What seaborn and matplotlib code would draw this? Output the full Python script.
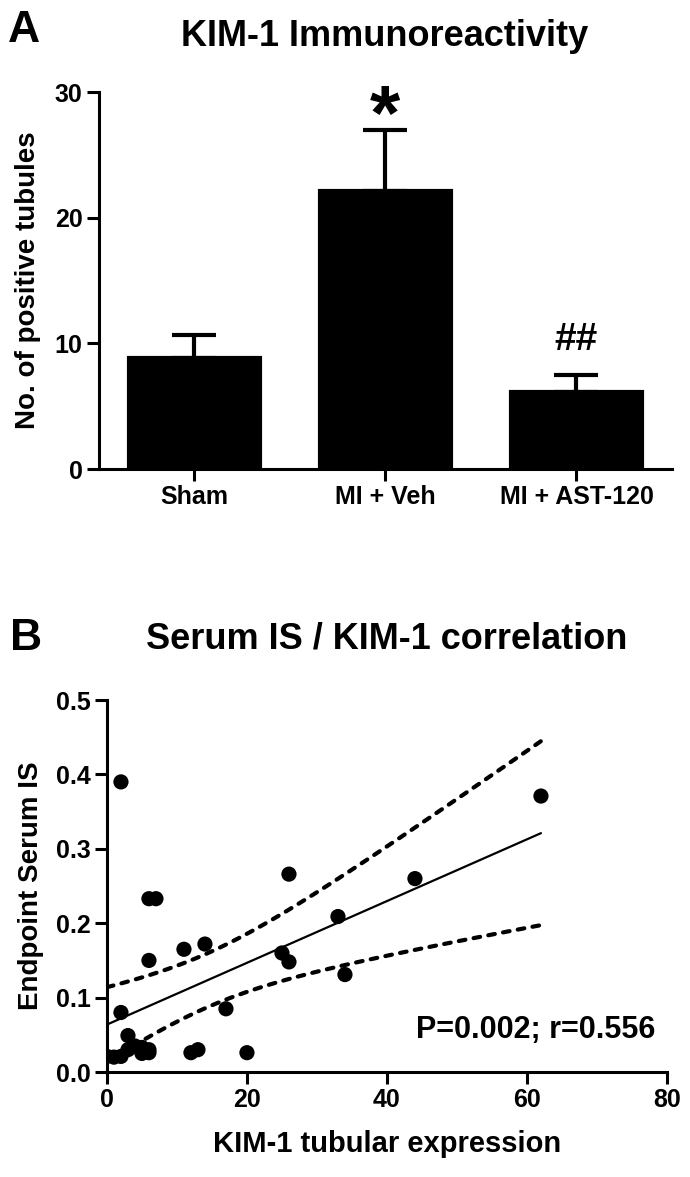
import matplotlib
matplotlib.use("Agg")
import matplotlib.pyplot as plt
import numpy as np
import seaborn as sns

# panel A: KIM-1 positive tubules (mean + SEM)
groups = ["Sham", "MI + Veh", "MI + AST-120"]
tubules_mean = [8.8, 22.1, 6.1]
tubules_sem = [1.9, 4.9, 1.4]
sig_marks = ["", "*", "##"]

# panel B: KIM-1 tubular expression vs endpoint serum IS
kim1_expr = [2, 6, 7, 26, 33, 6, 11, 14, 25, 26, 34, 2, 17, 3, 0, 2,
             4, 5, 6, 12, 13, 20, 62, 44, 1, 3, 5, 6]
serum_is = [0.390, 0.233, 0.233, 0.266, 0.209, 0.150, 0.165, 0.172, 0.160,
            0.148, 0.131, 0.080, 0.085, 0.049, 0.021, 0.021, 0.035, 0.033,
            0.026, 0.026, 0.030, 0.026, 0.371, 0.260, 0.020, 0.030, 0.025, 0.030]
stat_text = "P=0.002; r=0.556"

sns.set_theme(style="ticks")
plt.rcParams["font.family"] = ["Liberation Sans", "DejaVu Sans"]
plt.rcParams["font.weight"] = "bold"
plt.rcParams["axes.labelweight"] = "bold"
plt.rcParams["text.color"] = "black"
plt.rcParams["axes.labelcolor"] = "black"

fig = plt.figure(figsize=(6.9, 11.77), dpi=100)

# ---- panel A ----
ax1 = fig.add_axes([0.143, 0.6015, 0.831, 0.3203])
xpos = np.arange(len(groups))
# error bars go under the bars so only the upper half shows
ax1.errorbar(xpos, tubules_mean, yerr=[np.zeros(len(groups)), tubules_sem],
             fmt="none", ecolor="black", elinewidth=3, capsize=16, capthick=3,
             zorder=0.5)
sns.barplot(x=groups, y=tubules_mean, color="black", saturation=1,
            width=0.685, linewidth=3, edgecolor="black", ax=ax1, zorder=2)
for x, m, s, mark in zip(xpos, tubules_mean, tubules_sem, sig_marks):
    if mark == "*":
        ax1.text(x, m + s - 0.8, mark, ha="center", va="baseline", fontsize=56)
    elif mark:
        ax1.text(x, m + s + 1.3, mark, ha="center", va="bottom", fontsize=28)
ax1.set_xlim(-0.5, 2.5)
ax1.set_ylim(0, 30)
ax1.set_yticks([0, 10, 20, 30])
ax1.set_ylabel("No. of positive tubules", fontsize=20)
ax1.yaxis.set_label_coords(-0.1, 0.5)

# ---- panel B ----
ax2 = fig.add_axes([0.155, 0.0892, 0.8116, 0.316])
sns.scatterplot(x=kim1_expr, y=serum_is, color="black", s=120,
                edgecolor="none", ax=ax2, zorder=3)

# linear fit and 95% confidence band of the line
xa = np.array(kim1_expr, dtype=float)
ya = np.array(serum_is)
n = len(xa)
slope, intercept = np.polyfit(xa, ya, 1)
xs = np.linspace(xa.min(), xa.max(), 100)
fit = intercept + slope * xs
resid = ya - (intercept + slope * xa)
s_err = np.sqrt(np.sum(resid ** 2) / (n - 2))
sxx = np.sum((xa - xa.mean()) ** 2)
t_crit = 2.056  # t(0.975, df=26)
band = t_crit * s_err * np.sqrt(1 / n + (xs - xa.mean()) ** 2 / sxx)
ax2.plot(xs, fit, color="black", lw=1.6)
for sign in (1, -1):
    ax2.plot(xs, fit + sign * band, color="black", lw=3,
             dashes=(1.6, 2.0), dash_capstyle="round")

ax2.text(78.3, 0.046, stat_text, ha="right", va="baseline", fontsize=22)
ax2.set_xlim(0, 80)
ax2.set_ylim(0, 0.5)
ax2.set_xticks([0, 20, 40, 60, 80])
ax2.set_yticks([0, 0.1, 0.2, 0.3, 0.4, 0.5])
ax2.yaxis.set_major_formatter(matplotlib.ticker.FormatStrFormatter("%.1f"))
ax2.set_xlabel("KIM-1 tubular expression", fontsize=21)
ax2.set_ylabel("Endpoint Serum IS", fontsize=20)
ax2.yaxis.set_label_coords(-0.113, 0.5)
ax2.xaxis.set_label_coords(0.5, -0.155)

for ax in (ax1, ax2):
    sns.despine(ax=ax)
    for side in ("left", "bottom"):
        ax.spines[side].set_linewidth(2.2)
        ax.spines[side].set_color("black")
    ax.tick_params(axis="both", length=8.6, width=2.2, labelsize=18,
                   color="black", labelcolor="black", pad=3)

fig.text(0.558, 0.961, "KIM-1 Immunoreactivity", ha="center",
         va="baseline", fontsize=26, fontweight="bold")
fig.text(0.561, 0.4494, "Serum IS / KIM-1 correlation", ha="center",
         va="baseline", fontsize=26, fontweight="bold")
fig.text(0.0116, 0.9643, "A", ha="left", va="baseline", fontsize=32,
         fontweight="bold")
fig.text(0.0145, 0.4477, "B", ha="left", va="baseline", fontsize=32,
         fontweight="bold")

fig.savefig("out.png", dpi=100, facecolor="white")
